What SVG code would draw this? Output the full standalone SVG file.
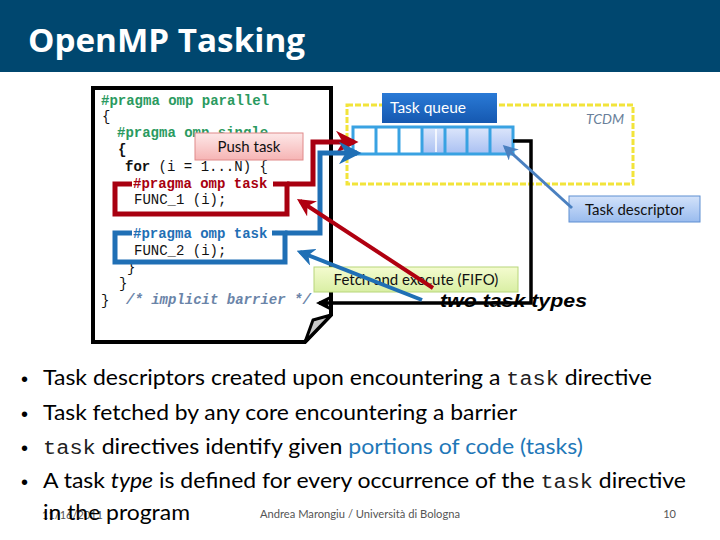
<svg xmlns="http://www.w3.org/2000/svg" width="720" height="540" viewBox="0 0 720 540">
<style>
.code{font-family:"Liberation Mono","Courier New",monospace;font-size:14px;fill:#111}
.b{font-weight:bold}
.g{fill:#2a9a60;font-weight:bold}
.r{fill:#a80010;font-weight:bold}
.bl{fill:#1f6fb5;font-weight:bold}
.cm{fill:#6a84a8;font-weight:bold;font-style:italic}
.lbl{font-family:Lato,"Open Sans","Liberation Sans",sans-serif;font-size:15px;fill:#111}
.bul{font-family:Lato,"Open Sans","Liberation Sans",sans-serif;font-size:21px;fill:#000}
.dot{font-family:"Liberation Sans",Arial,sans-serif;font-size:20px;fill:#000}
.mono{font-family:"Liberation Mono","Courier New",monospace;fill:#222;font-size:20px}
.foot{font-family:Lato,"Open Sans","Liberation Sans",sans-serif;font-size:11px;fill:#555}
</style>
<defs>
<linearGradient id="gq" x1="0" y1="0" x2="0" y2="1"><stop offset="0" stop-color="#2a7ad6"/><stop offset="1" stop-color="#1558b0"/></linearGradient>
<linearGradient id="gc" x1="0" y1="0" x2="0" y2="1"><stop offset="0" stop-color="#dde6fb"/><stop offset="1" stop-color="#a9c0f2"/></linearGradient>
<linearGradient id="gd" x1="0" y1="0" x2="0" y2="1"><stop offset="0" stop-color="#d3e2fa"/><stop offset="1" stop-color="#99bbee"/></linearGradient>
<linearGradient id="gf" x1="0" y1="0" x2="0" y2="1"><stop offset="0" stop-color="#f4fbcf"/><stop offset="1" stop-color="#d9efa4"/></linearGradient>
<linearGradient id="gp" x1="0" y1="0" x2="0" y2="1"><stop offset="0" stop-color="#fde8e8"/><stop offset="1" stop-color="#f6b4b4"/></linearGradient>
<marker id="ar" viewBox="0 0 10 10" refX="8" refY="5" markerWidth="4.5" markerHeight="4.5" orient="auto" markerUnits="strokeWidth"><path d="M0,0 L10,5 L0,10 L3,5 Z" fill="#b00010"/></marker>
<marker id="ab" viewBox="0 0 10 10" refX="8" refY="5" markerWidth="4.5" markerHeight="4.5" orient="auto" markerUnits="strokeWidth"><path d="M0,0 L10,5 L0,10 L3,5 Z" fill="#1f6fb5"/></marker>
<marker id="as" viewBox="0 0 10 10" refX="8" refY="5" markerWidth="5" markerHeight="5" orient="auto" markerUnits="strokeWidth"><path d="M0,0 L10,5 L0,10 L3,5 Z" fill="#4a80c0"/></marker>
<marker id="ak" viewBox="0 0 10 10" refX="8" refY="5" markerWidth="4.5" markerHeight="4.5" orient="auto" markerUnits="strokeWidth"><path d="M0,0 L10,5 L0,10 L3,5 Z" fill="#000"/></marker>
</defs>
<rect width="720" height="540" fill="#fff"/>
<g id="title">
<rect x="0" y="0" width="720" height="72" fill="#00476f"/>
<text x="28" y="52" font-family="'Open Sans','Liberation Sans',sans-serif" font-size="33" font-weight="bold" fill="#fff" textLength="277" lengthAdjust="spacingAndGlyphs">OpenMP Tasking</text>
</g>
<g id="code-box">
<path d="M93,88 H331 V315 L305,342 H93 Z" fill="#fff" stroke="#000" stroke-width="4"/>
<path d="M331,315 L313,320 L305,342 Z" fill="#c8c8c8" stroke="#000" stroke-width="3" stroke-linejoin="round"/>
<text class="code g" x="101" y="105">#pragma omp parallel</text>
<text class="code" x="102" y="121">{</text>
<text class="code g" x="117" y="137">#pragma omp single</text>
<text class="code b" x="118" y="154">{</text>
<text class="code" x="125" y="171"><tspan class="b">for</tspan> (i = 1...N) {</text>
<text class="code r" x="133" y="188">#pragma omp task</text>
<text class="code" x="134" y="204">FUNC_1 (i);</text>
<text class="code bl" x="133" y="238">#pragma omp task</text>
<text class="code" x="134" y="255">FUNC_2 (i);</text>
<text class="code" x="127" y="272">}</text>
<text class="code" x="119" y="288">}</text>
<text class="code" x="101" y="305">}</text>
<text class="code cm" x="126" y="304">/* implicit barrier */</text>
</g>
<g id="push-task">
<rect x="195" y="133" width="108" height="27" fill="url(#gp)" stroke="#e08a8a" stroke-width="1"/>
<text class="lbl" x="249" y="152" text-anchor="middle">Push task</text>
</g>
<g id="tcdm">
<rect x="347" y="105" width="286" height="79" fill="none" stroke="#f2e43a" stroke-width="3" stroke-dasharray="6,2"/>
<text x="624" y="124" text-anchor="end" font-family="Lato,'Open Sans','Liberation Sans',sans-serif" font-size="14" font-style="italic" fill="#6a7f9a">TCDM</text>
</g>
<g id="task-queue-label">
<rect x="382" y="93" width="115" height="30" fill="url(#gq)"/>
<text x="390" y="113" font-family="Lato,'Open Sans','Liberation Sans',sans-serif" font-size="15.5" fill="#fff">Task queue</text>
</g>
<g id="task-queue">
<rect x="353" y="127" width="69" height="27" fill="#fff"/>
<rect x="422" y="127" width="91" height="27" fill="url(#gc)"/>
<line x1="436" y1="129" x2="436" y2="152" stroke="#fff" stroke-width="1.5"/>
<rect x="353" y="127" width="160" height="27" fill="none" stroke="#39a2e2" stroke-width="3"/>
<g stroke="#39a2e2" stroke-width="3">
<line x1="376" y1="127" x2="376" y2="154"/>
<line x1="399" y1="127" x2="399" y2="154"/>
<line x1="422" y1="127" x2="422" y2="154"/>
<line x1="445" y1="127" x2="445" y2="154"/>
<line x1="467" y1="127" x2="467" y2="154"/>
<line x1="490" y1="127" x2="490" y2="154"/>
</g>
</g>
<g id="task-descriptor">
<rect x="569" y="196" width="131" height="26" fill="url(#gd)" stroke="#5f8fd2" stroke-width="1"/>
<text class="lbl" x="634.5" y="215" text-anchor="middle">Task descriptor</text>
</g>
<g id="fetch-execute">
<rect x="314" y="267" width="204" height="25" fill="url(#gf)" stroke="#b8d67a" stroke-width="1"/>
<text class="lbl" x="416" y="285" text-anchor="middle">Fetch and execute (FIFO)</text>
</g>
<g id="two-task-types">
<text x="440" y="307" font-family="'Liberation Sans',Arial,sans-serif" font-size="18" font-weight="bold" font-style="italic" fill="#000" textLength="147" lengthAdjust="spacingAndGlyphs">two task types</text>
</g>
<g id="connectors" fill="none" stroke-linejoin="miter">
<path d="M132,184 H115 V214 H287 V184 H273" stroke="#a80010" stroke-width="5"/>
<path d="M287,184 H313 V142 H354" stroke="#a80010" stroke-width="5" marker-end="url(#ar)"/>
<path d="M132,233 H115 V262 H285 V233 H272" stroke="#1f6fb5" stroke-width="5"/>
<path d="M285,233 H320 V153 H357" stroke="#1f6fb5" stroke-width="5" marker-end="url(#ab)"/>
<path d="M513,141 H531 V303 H319" stroke="#000" stroke-width="3.5" marker-end="url(#ak)"/>
<line x1="572" y1="208" x2="505" y2="147" stroke="#4a80c0" stroke-width="3" marker-end="url(#as)"/>
<line x1="433" y1="288" x2="300" y2="201" stroke="#b00010" stroke-width="4" marker-end="url(#ar)"/>
<line x1="422" y1="300" x2="300" y2="252" stroke="#1f6fb5" stroke-width="4" marker-end="url(#ab)"/>
</g>
<g id="bullets">
<text class="dot" x="21" y="386">•</text>
<text class="dot" x="21" y="421">•</text>
<text class="dot" x="21" y="455">•</text>
<text class="dot" x="21" y="489">•</text>
<text class="bul" x="43" y="385" textLength="609" lengthAdjust="spacingAndGlyphs">Task descriptors created upon encountering a <tspan class="mono">task</tspan> directive</text>
<text class="bul" x="43" y="420" textLength="474" lengthAdjust="spacingAndGlyphs">Task fetched by any core encountering a barrier</text>
<text class="bul" x="43" y="454" textLength="540" lengthAdjust="spacingAndGlyphs"><tspan class="mono">task</tspan> directives identify given <tspan fill="#1f78b8">portions of code (tasks)</tspan></text>
<text class="bul" x="43" y="488" textLength="643" lengthAdjust="spacingAndGlyphs">A task <tspan font-style="italic">type</tspan> is defined for every occurrence of the <tspan class="mono">task</tspan> directive</text>
<text class="foot" x="42" y="519">11/16/2011</text>
<text class="bul" x="43" y="520" textLength="147" lengthAdjust="spacingAndGlyphs">in the program</text>
</g>
<g id="footer">
<text class="foot" x="260" y="518" textLength="200" lengthAdjust="spacingAndGlyphs">Andrea Marongiu / Università di Bologna</text>
<text class="foot" x="676" y="518" text-anchor="end">10</text>
</g>
</svg>
